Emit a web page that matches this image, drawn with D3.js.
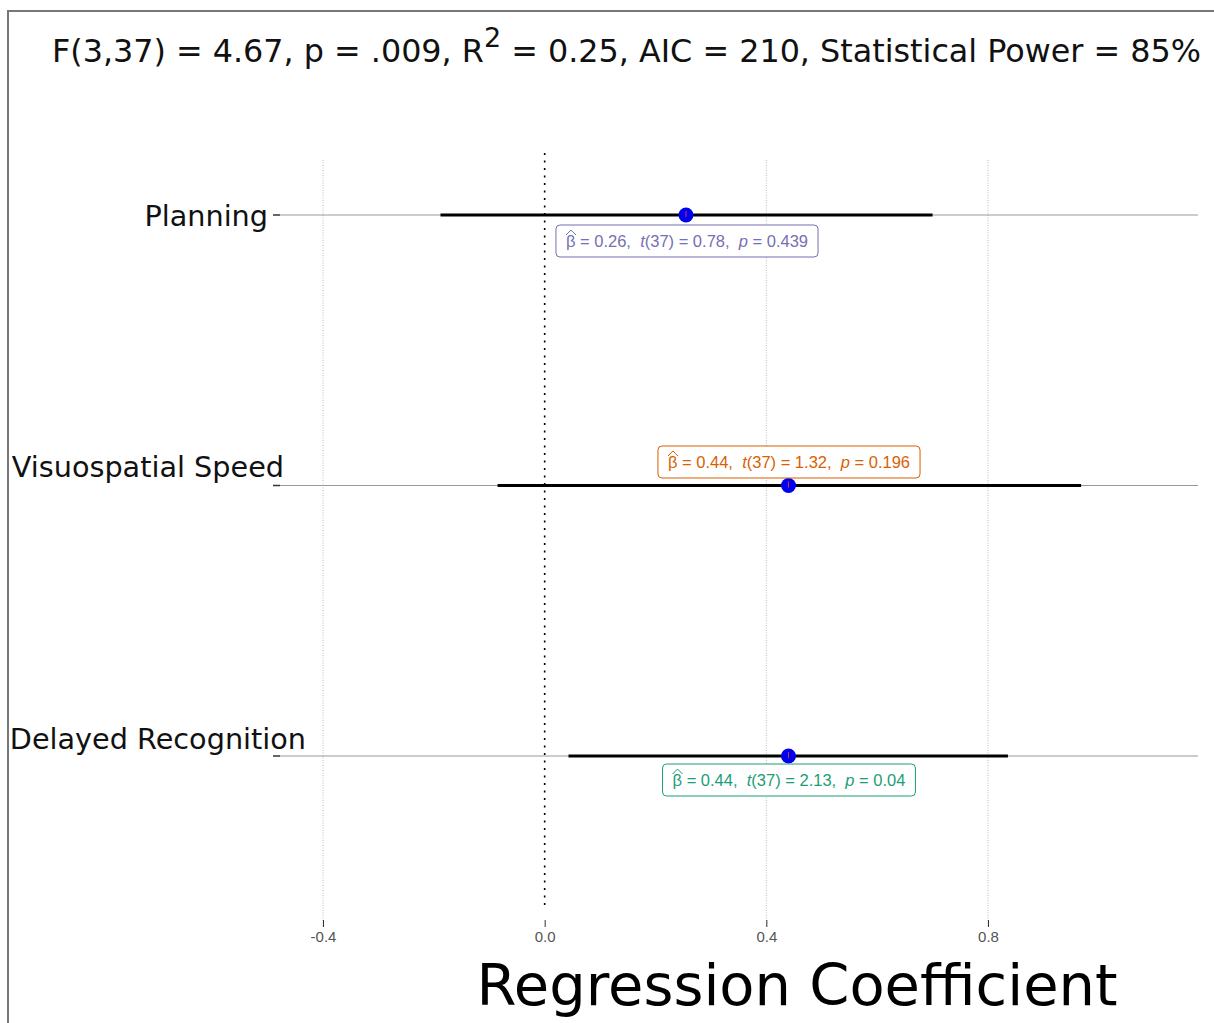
<!DOCTYPE html>
<html><head><meta charset="utf-8">
<script src="https://cdn.jsdelivr.net/npm/d3@7"></script>
<style>body{margin:0;background:#fff;} text{white-space:pre;}</style>
</head><body>
<svg id="chart" width="1214" height="1023"></svg>
<script>
const terms = ["Planning", "Visuospatial Speed", "Delayed Recognition"];
const estimates = [0.255, 0.44, 0.44];
const ciLow = [-0.188, -0.085, 0.043];
const ciHigh = [0.70, 0.968, 0.836];
const labelTexts = [
  {b: "0.26", t: "0.78", p: "0.439"},
  {b: "0.44", t: "1.32", p: "0.196"},
  {b: "0.44", t: "2.13", p: "0.04"}
];
const labelColors = ["#7570B3", "#D95F02", "#1B9E77"];
const xTicks = [-0.4, 0.0, 0.4, 0.8];

const svg = d3.select("#chart");
const x = d3.scaleLinear().domain([-0.4, 0.8]).range([323, 988]);
const y = d3.scalePoint().domain(terms).range([215, 756]);

// border
svg.append("path").attr("d", "M8,1023 L8,11 L1214,11")
  .attr("fill", "none").attr("stroke", "#777").attr("stroke-width", 2);

// title
const title = svg.append("text").attr("x", 52).attr("y", 62)
  .attr("font-family", "DejaVu Sans, Verdana, sans-serif").attr("font-size", 31.8).attr("fill", "#111");
title.append("tspan").text("F(3,37) = 4.67, p = .009, R");
title.append("tspan").attr("dy", -15).attr("font-size", 27).text("2");
title.append("tspan").attr("dy", 15).text(" = 0.25, AIC = 210, Statistical Power = 85%");

// vertical grid
xTicks.filter(d => d !== 0).forEach(d => {
  svg.append("line").attr("x1", x(d)).attr("x2", x(d)).attr("y1", 160).attr("y2", 926)
    .attr("stroke", "#bbb").attr("stroke-width", 1).attr("stroke-dasharray", "1,1.5");
});
// zero line
svg.append("line").attr("x1", x(0)).attr("x2", x(0)).attr("y1", 153).attr("y2", 910)
  .attr("stroke", "#000").attr("stroke-width", 1.6).attr("stroke-dasharray", "2,5.5");

// x axis
const xAxis = d3.axisBottom(x).tickValues(xTicks)
  .tickFormat(d => d3.format(".1f")(d).replace("\u2212", "-")).tickSize(7).tickPadding(4);
const gx = svg.append("g").attr("transform", "translate(0,920)").call(xAxis);
gx.select(".domain").remove();
gx.selectAll(".tick line").attr("stroke", "#333");
gx.selectAll(".tick text").attr("font-family", "Liberation Sans Narrow, Liberation Sans, Arial, sans-serif")
  .attr("font-size", 15).attr("fill", "#555");

// row lines
terms.forEach(t => {
  svg.append("line").attr("x1", 280).attr("x2", 1198).attr("y1", y(t)).attr("y2", y(t))
    .attr("stroke", "#999").attr("stroke-width", 1);
  svg.append("line").attr("x1", 273).attr("x2", 280).attr("y1", y(t)).attr("y2", y(t))
    .attr("stroke", "#333").attr("stroke-width", 1.5);
});

// y labels
const labelPos = [
  {x: 268, dy: 11},
  {x: 284, dy: -9},
  {x: 306, dy: -7}
];
terms.forEach((t, i) => {
  svg.append("text").attr("x", labelPos[i].x).attr("y", y(t) + labelPos[i].dy)
    .attr("text-anchor", "end")
    .attr("font-family", "DejaVu Sans, Verdana, sans-serif").attr("font-size", 28.7).attr("fill", "#111")
    .text(t);
});

// CI lines
terms.forEach((t, i) => {
  svg.append("line").attr("x1", x(ciLow[i])).attr("x2", x(ciHigh[i])).attr("y1", y(t)).attr("y2", y(t))
    .attr("stroke", "#000").attr("stroke-width", 3);
});
// points
terms.forEach((t, i) => {
  svg.append("circle").attr("cx", x(estimates[i])).attr("cy", y(t)).attr("r", 7.5).attr("fill", "#0000EE");
  svg.append("line").attr("x1", x(estimates[i])).attr("x2", x(estimates[i])).attr("y1", y(t) - 4).attr("y2", y(t) + 2)
    .attr("stroke", "#d33").attr("stroke-width", 1);
});

// labels
const boxes = [
  {cx: 687, cy: 241},
  {cx: 789, cy: 462},
  {cx: 789, cy: 780}
];
terms.forEach((t, i) => {
  const g = svg.append("g");
  const txt = g.append("text").attr("x", boxes[i].cx).attr("y", boxes[i].cy + 6)
    .attr("text-anchor", "middle").attr("font-family", "Liberation Sans, Arial, sans-serif")
    .attr("font-size", 16.5).attr("fill", labelColors[i]);
  const L = labelTexts[i];
  txt.append("tspan").text("β");
  txt.append("tspan").text(" = " + L.b + ",  ");
  txt.append("tspan").attr("font-style", "italic").text("t");
  txt.append("tspan").text("(37) = " + L.t + ",  ");
  txt.append("tspan").attr("font-style", "italic").text("p");
  txt.append("tspan").text(" = " + L.p);
  const bb = txt.node().getBBox();
  const bx = bb.x + 5;
  g.append("path").attr("d", `M${bx - 5},${boxes[i].cy - 6} L${bx},${boxes[i].cy - 11} L${bx + 5},${boxes[i].cy - 6}`)
    .attr("fill", "none").attr("stroke", labelColors[i]).attr("stroke-width", 1);
  g.insert("rect", "text").attr("x", bb.x - 10).attr("y", boxes[i].cy - 16)
    .attr("width", bb.width + 20).attr("height", 32).attr("rx", 4)
    .attr("fill", "#fff").attr("stroke", labelColors[i]).attr("stroke-width", 1);
});

// x title
svg.append("text").attr("x", 797).attr("y", 1005).attr("text-anchor", "middle")
  .attr("font-family", "DejaVu Sans, Verdana, sans-serif").attr("font-size", 57.5).attr("fill", "#000")
  .text("Regression Coefficient");
</script>
</body></html>
